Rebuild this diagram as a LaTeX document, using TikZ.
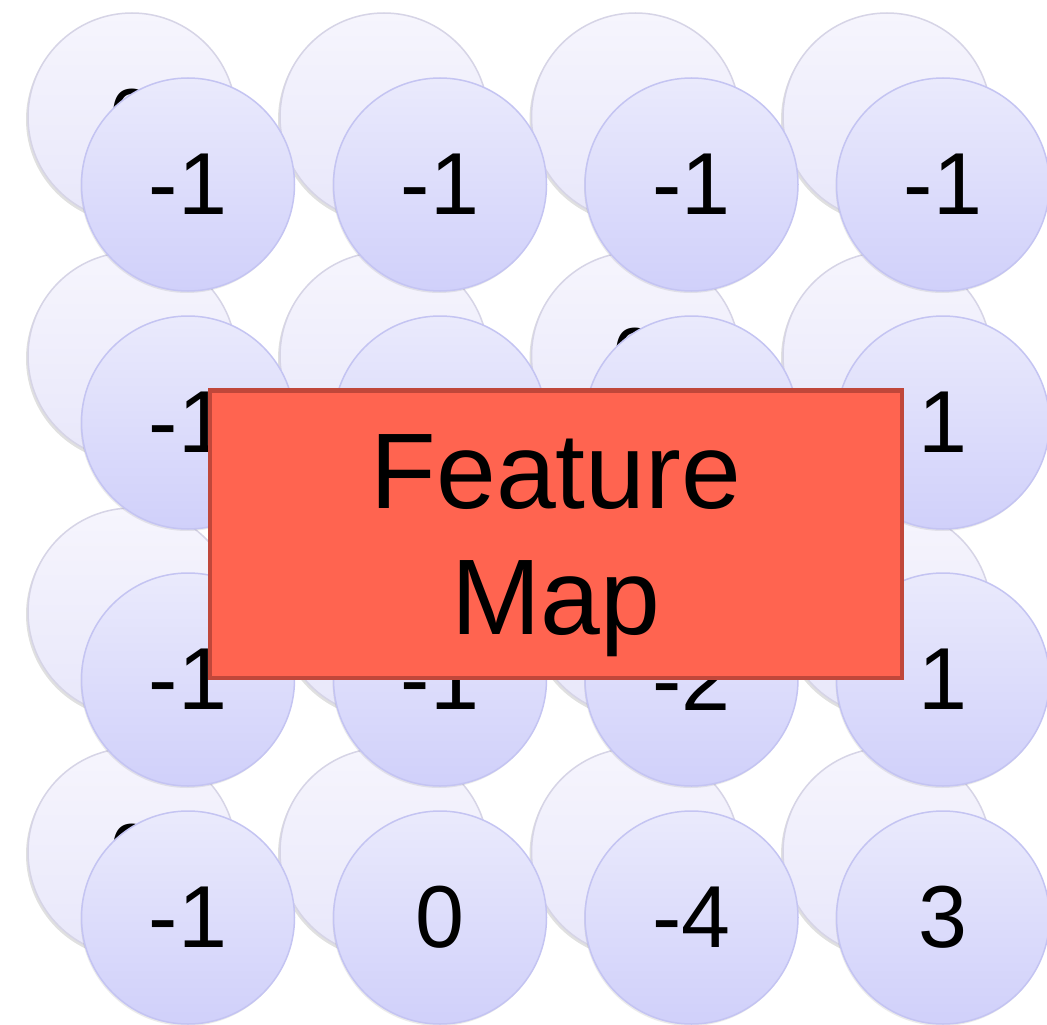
\documentclass[tikz,border=0pt]{standalone}
\usepackage{fontspec}
\setmainfont{Liberation Sans}
\usetikzlibrary{shadows}
\definecolor{frontTop}{RGB}{234,234,252}
\definecolor{frontBot}{RGB}{208,208,250}
\definecolor{frontLine}{RGB}{196,196,242}
\definecolor{backTop}{RGB}{246,245,253}
\definecolor{backBot}{RGB}{232,231,250}
\definecolor{backLine}{RGB}{214,212,230}
\definecolor{mapFill}{RGB}{255,100,80}
\definecolor{mapLine}{RGB}{192,71,58}
\tikzset{
  backcell/.style={circle, draw=backLine, line width=1.5pt, top color=backTop, bottom color=backBot,
    minimum size=208pt, inner sep=0pt, font=\fontsize{78}{90}\selectfont,
    drop shadow={shadow xshift=-2pt, shadow yshift=-2.5pt, opacity=0.12, fill=black}},
  frontcell/.style={circle, draw=frontLine, line width=1.5pt, top color=frontTop, bottom color=frontBot,
    minimum size=213pt, inner sep=0pt, font=\fontsize{88}{100}\selectfont,
    drop shadow={shadow xshift=-1pt, shadow yshift=-2pt, opacity=0.08, fill=black}},
  mapbox/.style={rectangle, draw=mapLine, fill=mapFill, line width=4.5pt,
    minimum width=692pt, minimum height=287.5pt, inner sep=0pt},
  maptext/.style={align=center, inner sep=0pt, font=\fontsize{107.5}{126}\selectfont}
}
\begin{document}
\begin{tikzpicture}[x=1pt, y=-1pt]
  \useasboundingbox (0,0) rectangle (1047,1025);
  \fill[white] (0,0) rectangle (1047,1025);

  % back layer of cells, offset up and to the left
  \foreach \r/\yy in {0/117, 1/356, 2/612, 3/852}{
    \foreach \c/\xx in {0/132, 1/384, 2/635.5, 3/887}{
      \node[backcell] (b\r\c) at (\xx,\yy) {};
    }
  }
  \node[font=\fontsize{78}{90}\selectfont] (bt00) at (b00.center) {0};
  \node[font=\fontsize{78}{90}\selectfont] (bt12) at (b12.center) {0};
  \node[font=\fontsize{78}{90}\selectfont] (bt30) at (b30.center) {0};

  % front layer of cells with their values
  \foreach \c/\xx/\v in {0/188/-1, 1/440/-1, 2/691.5/-1, 3/943/-1}{
    \node[frontcell] (f0\c) at (\xx,184.5) {\v};
  }
  \foreach \c/\xx/\v in {0/188/-1, 1/440/{}, 2/691.5/{}, 3/943/1}{
    \node[frontcell] (f1\c) at (\xx,422.5) {\v};
  }
  \foreach \c/\xx/\v in {0/188/-1, 1/440/-1, 2/691.5/-2, 3/943/1}{
    \node[frontcell] (f2\c) at (\xx,679.5) {\v};
  }
  \foreach \c/\xx/\v in {0/188/-1, 1/440/0, 2/691.5/-4, 3/943/3}{
    \node[frontcell] (f3\c) at (\xx,917.5) {\v};
  }

  % label box on top
  \node[mapbox] (fmap) at (556,534) {};
  \node[maptext] (fmaplabel) at (556,546) {Feature\\Map};
\end{tikzpicture}
\end{document}
